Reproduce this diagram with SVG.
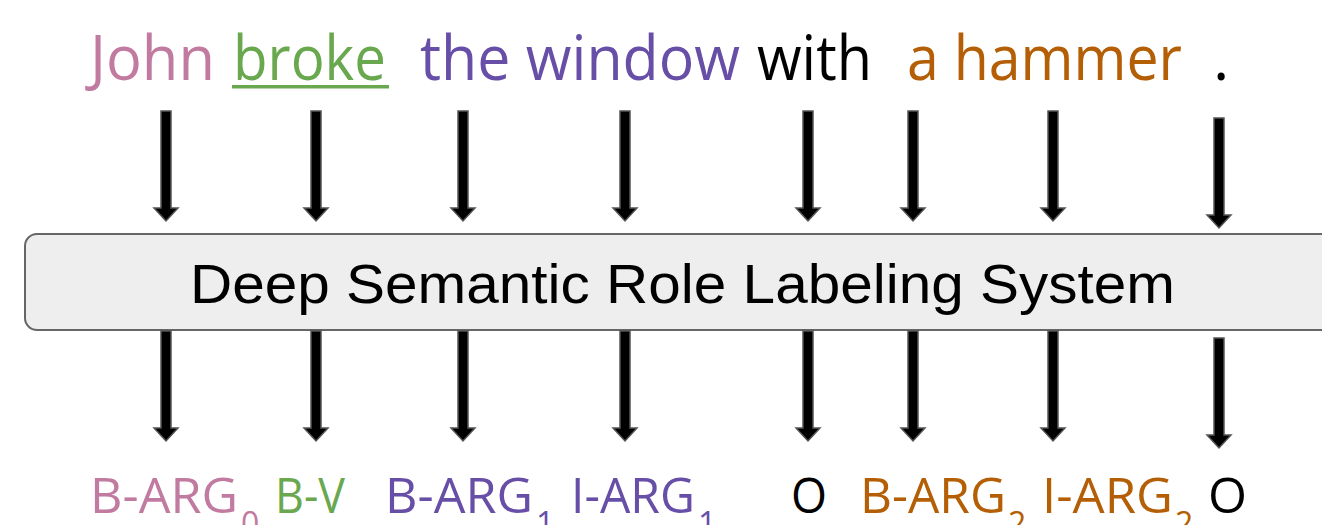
<svg xmlns="http://www.w3.org/2000/svg" width="1322" height="525" viewBox="0 0 1322 525">
<style>
.w{font-family:"Open Sans","Liberation Sans",sans-serif;font-size:62px}
.l{font-family:"Open Sans","Liberation Sans",sans-serif;font-size:49px}
.s{font-family:"Open Sans","Liberation Sans",sans-serif;font-size:32px}
.arr{fill:#000;stroke:#555;stroke-width:1.5}
.pk{fill:#c27ba0}.gr{fill:#6aa84f}.pu{fill:#674ea7}.or{fill:#b45f06}.bk{fill:#000}
</style>
<rect width="1322" height="525" fill="#fff"/>
<g id="sentence">
<text class="w pk" x="90" y="80" textLength="125" lengthAdjust="spacingAndGlyphs">John</text>
<text class="w gr" x="233" y="80" textLength="153" lengthAdjust="spacingAndGlyphs">broke</text>
<rect x="232" y="85" width="157" height="3.5" fill="#6aa84f"/>
<text class="w pu" x="420" y="80" textLength="320" lengthAdjust="spacingAndGlyphs">the window</text>
<text class="w bk" x="757" y="80" textLength="115" lengthAdjust="spacingAndGlyphs">with</text>
<text class="w or" x="907" y="80" textLength="275" lengthAdjust="spacingAndGlyphs">a hammer</text>
<text class="w bk" x="1213" y="80">.</text>
</g>
<g id="system">
<rect x="25" y="234" width="1312" height="96" rx="12" ry="12" fill="#eeeeee" stroke="#666" stroke-width="2"/>
<text x="190" y="303" font-family="Liberation Sans, Arial, sans-serif" font-size="56" textLength="985" lengthAdjust="spacingAndGlyphs">Deep Semantic Role Labeling System</text>
</g>
<g id="connectors">
<path class="arr" d="M161 111H171V208H178L166 221L154 208H161Z"/>
<path class="arr" d="M311 111H321V208H328L316 221L304 208H311Z"/>
<path class="arr" d="M458 111H468V208H475L463 221L451 208H458Z"/>
<path class="arr" d="M620 111H630V208H637L625 221L613 208H620Z"/>
<path class="arr" d="M803 111H813V208H820L808 221L796 208H803Z"/>
<path class="arr" d="M908 111H918V208H925L913 221L901 208H908Z"/>
<path class="arr" d="M1048 111H1058V208H1065L1053 221L1041 208H1048Z"/>
<path class="arr" d="M1214 118H1224V215H1231L1219 228L1207 215H1214Z"/>
<path class="arr" d="M161 331H171V428H178L166 441L154 428H161Z"/>
<path class="arr" d="M311 331H321V428H328L316 441L304 428H311Z"/>
<path class="arr" d="M458 331H468V428H475L463 441L451 428H458Z"/>
<path class="arr" d="M620 331H630V428H637L625 441L613 428H620Z"/>
<path class="arr" d="M803 331H813V428H820L808 441L796 428H803Z"/>
<path class="arr" d="M908 331H918V428H925L913 441L901 428H908Z"/>
<path class="arr" d="M1048 331H1058V428H1065L1053 441L1041 428H1048Z"/>
<path class="arr" d="M1214 338H1224V435H1231L1219 448L1207 435H1214Z"/>
</g>
<g id="labels">
<text class="l pk" x="90" y="513" textLength="148" lengthAdjust="spacingAndGlyphs">B-ARG</text>
<text class="s pk" x="241" y="535">0</text>
<text class="l gr" x="275" y="513" textLength="70" lengthAdjust="spacingAndGlyphs">B-V</text>
<text class="l pu" x="385" y="513" textLength="148" lengthAdjust="spacingAndGlyphs">B-ARG</text>
<text class="s pu" x="536" y="535">1</text>
<text class="l pu" x="571" y="513" textLength="124" lengthAdjust="spacingAndGlyphs">I-ARG</text>
<text class="s pu" x="698" y="535">1</text>
<text class="l bk" x="791" y="513" textLength="36" lengthAdjust="spacingAndGlyphs">O</text>
<text class="l or" x="860" y="513" textLength="146" lengthAdjust="spacingAndGlyphs">B-ARG</text>
<text class="s or" x="1008" y="535">2</text>
<text class="l or" x="1042" y="513" textLength="131" lengthAdjust="spacingAndGlyphs">I-ARG</text>
<text class="s or" x="1175" y="535">2</text>
<text class="l bk" x="1208" y="513" textLength="39" lengthAdjust="spacingAndGlyphs">O</text>
</g>
</svg>
